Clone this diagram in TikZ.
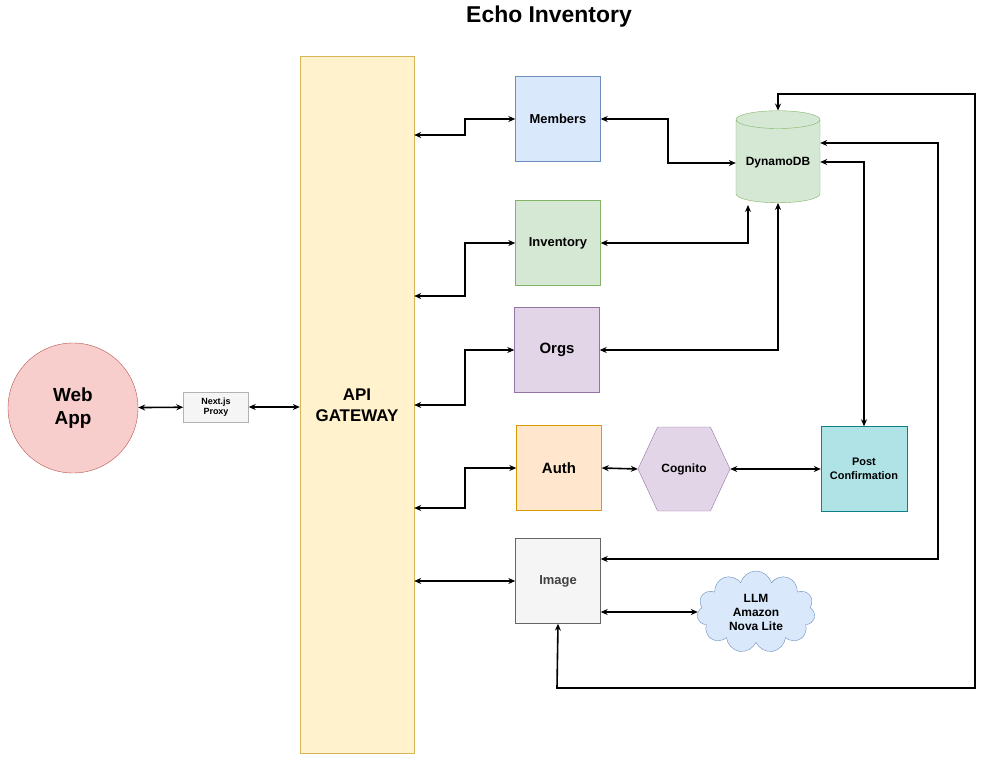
\documentclass[tikz,border=0pt]{standalone}
\usepackage{fontspec}
\setmainfont{Liberation Sans}
\usetikzlibrary{shapes.geometric,shapes.misc,shapes.symbols,arrows.meta}
\definecolor{webfill}{HTML}{F8CECC}\definecolor{webline}{HTML}{B85450}
\definecolor{gwfill}{HTML}{FFF2CC}\definecolor{gwline}{HTML}{D6B656}
\definecolor{bluefill}{HTML}{DAE8FC}\definecolor{blueline}{HTML}{6C8EBF}
\definecolor{greenfill}{HTML}{D5E8D4}\definecolor{greenline}{HTML}{82B366}
\definecolor{purplefill}{HTML}{E1D5E7}\definecolor{purpleline}{HTML}{9673A6}
\definecolor{orangefill}{HTML}{FFE6CC}\definecolor{orangeline}{HTML}{D79B00}
\definecolor{grayfill}{HTML}{F5F5F5}\definecolor{grayline}{HTML}{666666}
\definecolor{tealfill}{HTML}{B0E3E6}\definecolor{tealline}{HTML}{0E8088}
\tikzset{
  svc/.style={draw, minimum width=85bp, minimum height=85bp, font=\bfseries\fontsize{13}{15}\selectfont},
  link/.style={line width=1.6bp, {Stealth[length=7pt,width=6pt]}-{Stealth[length=7pt,width=6pt]}},
}
\begin{document}
\begin{tikzpicture}[x=1bp, y=-1bp]
    \useasboundingbox (0,0) rectangle (988,764);
    \node (title) at (549,17) {\bfseries\fontsize{23}{26}\selectfont Echo Inventory};

    % Client side
    \node (web) [draw=webline, fill=webfill, circle, minimum size=130bp,
                 align=center, font=\bfseries\fontsize{19}{23}\selectfont] at (73,408) {Web\\App};
    \node (proxy) [draw=gray!60, fill=grayfill, minimum width=65bp, minimum height=30bp,
                   align=center, font=\bfseries\fontsize{9}{10}\selectfont] at (216,407) {Next.js\\Proxy};
    \node (gw) [draw=gwline, fill=gwfill, minimum width=114bp, minimum height=697bp,
                align=center, font=\bfseries\fontsize{17}{21}\selectfont] at (357,405) {API\\GATEWAY};

    % Services
    \node (mem) [svc, draw=blueline, fill=bluefill] at (558,119) {Members};
    \node (inv) [svc, draw=greenline, fill=greenfill] at (558,243) {Inventory};
    \node (org) [svc, draw=purpleline, fill=purplefill, font=\bfseries\fontsize{15}{18}\selectfont] at (557,350) {Orgs};
    \node (auth) [svc, draw=orangeline, fill=orangefill, font=\bfseries\fontsize{15}{18}\selectfont] at (559,468) {Auth};
    \node (img) [svc, draw=grayline, fill=grayfill, text=black!75] at (558,581) {Image};
    \node (cog) [signal, signal to=west and east, signal pointer angle=130, inner sep=0pt,
                 draw=purpleline, fill=purplefill, minimum width=92bp, minimum height=84bp,
                 font=\bfseries\fontsize{12}{14}\selectfont] at (684,469) {Cognito};
    \node (post) [svc, draw=tealline, fill=tealfill, minimum width=86bp, align=center,
                  font=\bfseries\fontsize{11}{14}\selectfont] at (864,469) {Post\\Confirmation};
    \node (db) [cylinder, shape border rotate=90, aspect=0.25, draw=greenline, fill=greenfill,
                minimum width=84bp, minimum height=92bp, font=\bfseries\fontsize{12}{14}\selectfont] at (778,163) {DynamoDB};
    \node (llm) [cloud, cloud puffs=11, aspect=1.5, draw=blueline, fill=bluefill,
                 minimum width=118bp, minimum height=82bp, align=center,
                 font=\bfseries\fontsize{12}{14}\selectfont] at (756,612) {LLM\\Amazon\\Nova Lite};

    % Connections
    \draw [link] (web) -- (proxy);
    \draw [link] (proxy.east) -- (gw.west |- proxy.east);
    \draw [link] (gw.east |- 0,135) -- (465,135) |- (mem.west);
    \draw [link] (gw.east |- 0,296) -- (465,296) |- (inv.west);
    \draw [link] (gw.east |- 0,405) -- (465,405) |- (org.west);
    \draw [link] (gw.east |- 0,508) -- (465,508) |- (auth.west);
    \draw [link] (gw.east |- img.west) -- (img.west);
    \draw [link] (mem.east) -- (668,119) |- (db.west);
    \draw [link] (inv.east) -| (748,205);
    \draw [link] (org.east) -| (db.south);
    \draw [link] (db.east |- 0,162) -| (post.north);
    \draw [link] (auth.east) -- (cog.west);
    \draw [link] (cog.east) -- (post.west);
    \draw [link] (db.east |- 0,143) -- (938,143) |- (img.east |- 0,559);
    \draw [link] (img.south) -- (557,688) -- (975,688) -- (975,94) -| (db.north);
    \draw [link] (img.east |- llm.west) -- (llm.west);
\end{tikzpicture}
\end{document}
